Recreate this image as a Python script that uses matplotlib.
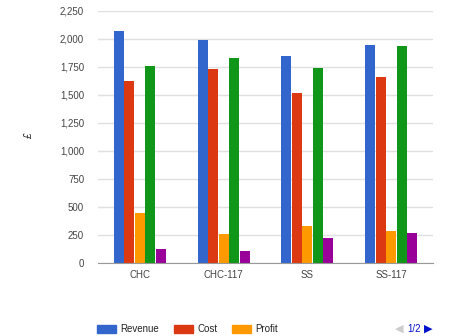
import matplotlib
matplotlib.use("Agg")
import matplotlib.pyplot as plt
from matplotlib.patches import Rectangle
import numpy as np

plt.rcParams['font.family'] = ['Liberation Sans', 'DejaVu Sans']

categories = ["CHC", "CHC-117", "SS", "SS-117"]
series_names = ["Revenue", "Cost", "Profit", "Series 4", "Series 5"]
revenue = [2070, 1988, 1848, 1946]
cost = [1628, 1729, 1518, 1664]
profit = [442, 259, 330, 282]
series4 = [1762, 1827, 1744, 1935]
series5 = [125, 104, 223, 265]
colors = ["#3366cc", "#dc3912", "#ff9900", "#109618", "#990099"]
y_ticks = [0, 250, 500, 750, 1000, 1250, 1500, 1750, 2000, 2250]

W, H = 451, 336
fig = plt.figure(figsize=(W / 100, H / 100), dpi=100)
ax = fig.add_axes([98 / W, 73 / H, 335 / W, 252 / H])

values = [revenue, cost, profit, series4, series5]
x = np.arange(len(categories))
step = 0.125
bw = 0.118
for i, (vals, c) in enumerate(zip(values, colors)):
    ax.bar(x + (i - 2) * step, vals, width=bw, color=c, zorder=3)

ax.set_xlim(-0.5, len(categories) - 0.5)
ax.set_ylim(0, 2250)
ax.set_yticks(y_ticks)
ax.set_yticklabels([f"{v:,}" for v in y_ticks])
ax.set_xticks(x)
ax.set_xticklabels(categories)
ax.tick_params(axis='both', length=0, labelsize=7, colors="#444444")
ax.tick_params(axis='y', pad=10)
ax.tick_params(axis='x', pad=5)
ax.grid(axis='y', color="#e0e0e0", linewidth=1, zorder=0)
for s in ["top", "right", "left"]:
    ax.spines[s].set_visible(False)
ax.spines["bottom"].set_color("#999999")
ax.spines["bottom"].set_zorder(4)

fig.text(29 / W, 1 - 136 / H, "£", rotation=90, fontsize=7, color="#222222",
         ha="center", va="center", style="italic")

# legend row (first page)
legend_y = 1 - 328.5 / H
for name, c, bx in zip(series_names[:3], colors[:3], [97, 174, 232]):
    fig.add_artist(Rectangle((bx / W, legend_y - 4 / H), 19 / W, 8 / H,
                             transform=fig.transFigure, color=c))
    fig.text((bx + 23) / W, legend_y, name, fontsize=7, color="#222222",
             ha="left", va="center")

# page navigation
fig.text(399 / W, legend_y, "◀", fontsize=8, color="#cccccc", ha="center",
         va="center", family=["DejaVu Sans"])
fig.text(414 / W, legend_y, "1/2", fontsize=7, color="#0011cc", ha="center",
         va="center")
fig.text(428.5 / W, legend_y, "▶", fontsize=8, color="#0011cc", ha="center",
         va="center", family=["DejaVu Sans"])

fig.savefig("out.png", dpi=100)
